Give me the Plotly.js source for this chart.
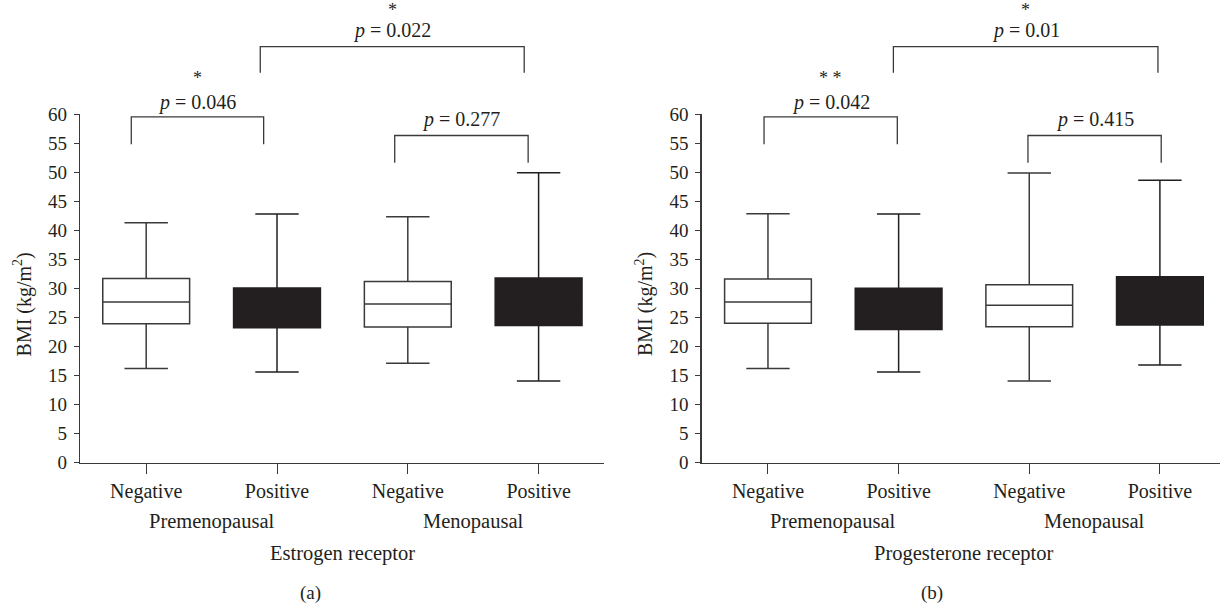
<!DOCTYPE html>
<html>
<head>
<meta charset="utf-8">
<script src="https://cdn.plot.ly/plotly-3.0.1.min.js"></script>
<style>html,body{margin:0;padding:0;background:#fff;}#chart{width:1220px;height:610px;}</style>
</head>
<body>
<div id="chart"></div>
<script>
// ---------- data ----------
const categories = ['Negative', 'Positive', 'Negative', 'Positive'];
const groups = ['Premenopausal', 'Menopausal'];
const receptorTitles = ['Estrogen receptor', 'Progesterone receptor'];
const panelLabels = ['(a)', '(b)'];

// Estrogen receptor (panel a)
const erLower  = [16.2, 15.6, 17.1, 14.05];
const erQ1     = [23.9, 23.2, 23.35, 23.6];
const erMedian = [27.65, 26.5, 27.3, 27.0];
const erQ3     = [31.7, 30.05, 31.2, 31.8];
const erUpper  = [41.3, 42.8, 42.3, 49.9];

// Progesterone receptor (panel b)
const prLower  = [16.2, 15.6, 14.05, 16.8];
const prQ1     = [24.0, 22.9, 23.4, 23.7];
const prMedian = [27.65, 26.3, 27.1, 27.5];
const prQ3     = [31.6, 30.0, 30.6, 32.0];
const prUpper  = [42.85, 42.8, 49.85, 48.6];

// comparisons: [from index, to index, p-value label, stars]
const erComparisons = [[0, 1, '0.046', '*'], [1, 3, '0.022', '*'], [2, 3, '0.277', '']];
const prComparisons = [[0, 1, '0.042', '* *'], [1, 3, '0.01', '*'], [2, 3, '0.415', '']];

const yTickVals = [0, 5, 10, 15, 20, 25, 30, 35, 40, 45, 50, 55, 60];

// ---------- styling / layout ----------
const FONT = "'Liberation Serif', 'Times New Roman', serif";
const INK = '#231f20';
const LINE = '#3a3a3a';
const W = 1220, H = 610;
const yDom = [1 - 462.7 / H, 1 - 114 / H];
const yRange = [0, 60];
const panels = [
  {xa: 'x', ya: 'y', dom: [80.4 / W, 604 / W], range: [-0.503, 3.5],
   lower: erLower, q1: erQ1, med: erMedian, q3: erQ3, upper: erUpper, comps: erComparisons,
   offsets: [[-0.114, -0.102], [-0.128, -0.11], [-0.10, -0.08]]},
  {xa: 'x2', ya: 'y2', dom: [702 / W, 1], range: [-0.505, 3.46],
   lower: prLower, q1: prQ1, med: prMedian, q3: prQ3, upper: prUpper, comps: prComparisons,
   offsets: [[-0.03, -0.01], [-0.04, -0.015], [-0.01, 0.01]]}
];
// bracket heights in data units: [bar, leg end, text, star]
const bracketLevels = [[59.5, 54.8, 61.9, 66.2], [71.6, 67.1, 74.3, 77.9], [56.3, 51.6, 59.0, 63]];

function xPaper(p, v) {
  const f = (v - p.range[0]) / (p.range[1] - p.range[0]);
  return p.dom[0] + f * (p.dom[1] - p.dom[0]);
}
function yPaper(v) {
  return yDom[0] + (v - yRange[0]) / (yRange[1] - yRange[0]) * (yDom[1] - yDom[0]);
}

const traces = [];
const shapes = [];
const annotations = [];
const layout = {
  width: W, height: H,
  margin: {l: 0, r: 0, t: 0, b: 0},
  paper_bgcolor: '#fff', plot_bgcolor: '#fff',
  showlegend: false,
  font: {family: FONT, color: INK, size: 18},
  shapes: shapes, annotations: annotations
};

panels.forEach((p, pi) => {
  categories.forEach((c, i) => {
    const filled = (i % 2 === 1);
    traces.push({
      type: 'box', xaxis: p.xa, yaxis: p.ya,
      x: [i], q1: [p.q1[i]], median: [p.med[i]], q3: [p.q3[i]],
      lowerfence: [p.lower[i]], upperfence: [p.upper[i]],
      width: 0.664, whiskerwidth: 0.5,
      fillcolor: filled ? INK : '#ffffff',
      line: {color: filled ? INK : LINE, width: 1.5},
      boxpoints: false, hoverinfo: 'skip', name: c
    });
  });
  const axN = pi === 0 ? '' : '2';
  layout['xaxis' + axN] = {
    domain: p.dom, range: p.range, anchor: p.ya,
    tickmode: 'array', tickvals: [0, 1, 2, 3], ticktext: categories,
    ticks: 'outside', ticklen: 10, tickwidth: 1, tickcolor: LINE,
    showline: true, linecolor: LINE, linewidth: 1.6,
    showgrid: false, zeroline: false,
    tickfont: {family: FONT, size: 20, color: INK}, fixedrange: true
  };
  layout['yaxis' + axN] = {
    domain: yDom, range: yRange, anchor: p.xa,
    tickmode: 'array', tickvals: yTickVals,
    ticks: 'outside', ticklen: 5, tickwidth: 1, tickcolor: LINE,
    showline: true, linecolor: LINE, linewidth: 1.6,
    showgrid: false, zeroline: false, ticklabelstandoff: 3,
    tickfont: {family: FONT, size: 19, color: INK}, fixedrange: true
  };
  // y-axis title
  annotations.push({
    xref: 'paper', yref: 'paper', x: (p.dom[0] * W - 58) / W, y: yPaper(27.3),
    text: 'BMI (kg/m<sup>2</sup>)', textangle: -90, showarrow: false,
    xanchor: 'center', yanchor: 'middle', font: {family: FONT, size: 20, color: INK}
  });
  // group labels
  groups.forEach((g, gi) => {
    annotations.push({
      xref: 'paper', yref: 'paper', x: xPaper(p, gi * 2 + 0.5), y: 1 - 521.7 / H,
      text: g, showarrow: false, xanchor: 'center', yanchor: 'middle',
      font: {family: FONT, size: 20.5, color: INK}
    });
  });
  // receptor title
  annotations.push({
    xref: 'paper', yref: 'paper', x: xPaper(p, 1.5), y: 1 - 553 / H,
    text: receptorTitles[pi], showarrow: false, xanchor: 'center', yanchor: 'middle',
    font: {family: FONT, size: 20.5, color: INK}
  });
  // panel label
  annotations.push({
    xref: 'paper', yref: 'paper', x: xPaper(p, 1.5) - 32 / W, y: 1 - 593 / H,
    text: panelLabels[pi], showarrow: false, xanchor: 'center', yanchor: 'middle',
    font: {family: FONT, size: 19, color: INK}
  });
  // significance brackets
  p.comps.forEach((cmp, ci) => {
    const [a, b, pv, stars] = cmp;
    const lv = bracketLevels[ci];
    const x0 = xPaper(p, a + p.offsets[ci][0]);
    const x1 = xPaper(p, b + p.offsets[ci][1]);
    const yb = yPaper(lv[0]), yl = yPaper(lv[1]);
    shapes.push({
      type: 'path', xref: 'paper', yref: 'paper',
      path: `M ${x0} ${yl} L ${x0} ${yb} L ${x1} ${yb} L ${x1} ${yl}`,
      line: {color: LINE, width: 1.3}
    });
    annotations.push({
      xref: 'paper', yref: 'paper', x: (x0 + x1) / 2, y: yPaper(lv[2]),
      text: '<i>p</i> = ' + pv, showarrow: false, xanchor: 'center', yanchor: 'middle',
      font: {family: FONT, size: 20, color: INK}
    });
    if (stars) {
      annotations.push({
        xref: 'paper', yref: 'paper', x: (x0 + x1) / 2, y: yPaper(lv[3]),
        text: stars, showarrow: false, xanchor: 'center', yanchor: 'middle',
        font: {family: FONT, size: 18, color: INK}
      });
    }
  });
});

Plotly.newPlot('chart', traces, layout, {displayModeBar: false, staticPlot: true});
</script>
</body>
</html>
